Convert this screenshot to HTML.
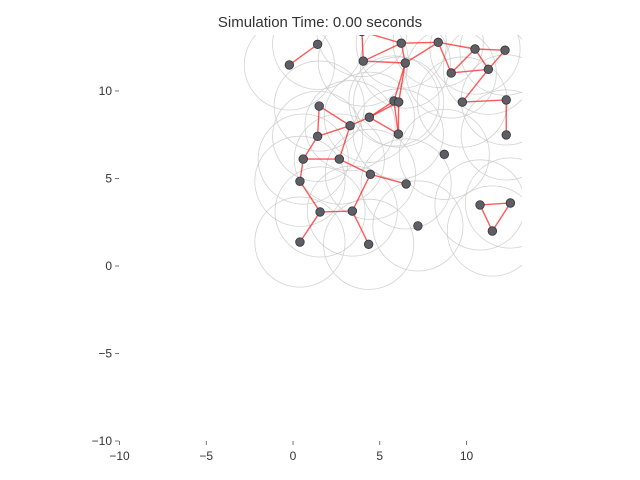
<!DOCTYPE html>
<html><head><meta charset="utf-8"><style>
body{margin:0;background:#fff;}
svg{display:block;font-family:"Liberation Sans","DejaVu Sans",sans-serif;}
</style></head><body>
<svg id="chart" width="640" height="480">
<text x="320" y="27" text-anchor="middle" font-size="15" fill="#333">Simulation Time: 0.00 seconds</text>
<defs><clipPath id="clip"><rect x="119" y="35" width="403" height="406"/></clipPath></defs>
<g id="plot" clip-path="url(#clip)"></g>
<g id="axes"></g>
</svg>
<script>
const nodeNames=["A","B","C","D","E","F","G","H","I","J","K","L","M","N","O","P","Q","R","S","T","U","V","W","X","Y","Z","AA","AB","AC","AD","AE","AF","AG","AH","TOP"];
const nodeX=[1.42,-0.21,6.24,8.37,4.05,6.47,10.49,12.22,9.12,11.26,9.76,12.29,5.82,6.09,1.51,4.40,3.29,1.42,6.07,12.29,8.72,0.59,2.67,4.46,6.52,0.40,1.56,3.42,0.40,4.36,7.20,10.78,12.53,11.49,3.97];
const nodeY=[12.67,11.49,12.73,12.78,11.71,11.60,12.40,12.33,11.03,11.24,9.37,9.49,9.43,9.37,9.14,8.50,8.02,7.41,7.54,7.49,6.38,6.11,6.11,5.24,4.69,4.84,3.09,3.14,1.37,1.24,2.29,3.49,3.60,2.00,13.4];
const edgeFrom=["A","E","E","C","C","D","D","G","G","I","G","J","J","D","K","L","F","F","M","M","N","M","N","P","P","O","O","R","Q","R","V","W","X","X","V","Z","AA","AA","AB","AF","AG","AF","E","C"];
const edgeTo=  ["B","C","F","F","D","F","G","H","I","J","J","H","K","I","L","T","M","N","N","S","S","P","P","S","Q","Q","R","Q","W","V","W","X","Y","AB","Z","AA","AB","AC","AD","AG","AH","AH","TOP","TOP"];
const xTicks=[-10,-5,0,5,10];
const yTicks=[-10,-5,0,5,10];
const xTickLabels=["\u221210","\u22125","0","5","10"];
const yTickLabels=["\u221210","\u22125","0","5","10"];
const sensingRadius=2.6;

const X0=293,XS=17.35,Y0=266,YS=17.5;
const sx=v=>X0+v*XS, sy=v=>Y0-v*YS;
const NS="http://www.w3.org/2000/svg";
const plot=document.getElementById('plot'), axes=document.getElementById('axes');
function mk(tag,attrs,parent){const e=document.createElementNS(NS,tag);for(const k in attrs)e.setAttribute(k,attrs[k]);parent.appendChild(e);return e;}
const idx=n=>nodeNames.indexOf(n);
nodeX.forEach((x,i)=>{
  const c=mk('circle',{cx:sx(x),cy:sy(nodeY[i]),r:sensingRadius*XS,fill:'none',stroke:'#c8c8c8','stroke-width':0.8,opacity:0.8},plot);
  
  
});
edgeFrom.forEach((f,k)=>{
  const a=idx(f),b=idx(edgeTo[k]);
  const l=mk('line',{x1:sx(nodeX[a]),y1:sy(nodeY[a]),x2:sx(nodeX[b]),y2:sy(nodeY[b]),stroke:'rgba(255,20,20,0.7)','stroke-width':1.4},plot);
  
  
});
nodeX.forEach((x,i)=>{
  const c=mk('circle',{cx:sx(x),cy:sy(nodeY[i]),r:4.3,fill:'#5e5e66',stroke:'#333','stroke-width':0.8},plot);
  
  
});
xTicks.forEach((t,i)=>{
  const tk=mk('line',{x1:sx(t),y1:441,x2:sx(t),y2:445,stroke:'#555','stroke-width':0.8},axes);
  
  
  const tx=mk('text',{x:sx(t),y:460,'text-anchor':'middle','font-size':12,fill:'#333'},axes);
  tx.textContent=xTickLabels[i];
  
  
});
yTicks.forEach((t,i)=>{
  const tk=mk('line',{x1:115,y1:sy(t),x2:119,y2:sy(t),stroke:'#555','stroke-width':0.8},axes);
  
  
  const tx=mk('text',{x:112,y:sy(t)+4,'text-anchor':'end','font-size':12,fill:'#333'},axes);
  tx.textContent=yTickLabels[i];
  
  
});
</script>
</body></html>
